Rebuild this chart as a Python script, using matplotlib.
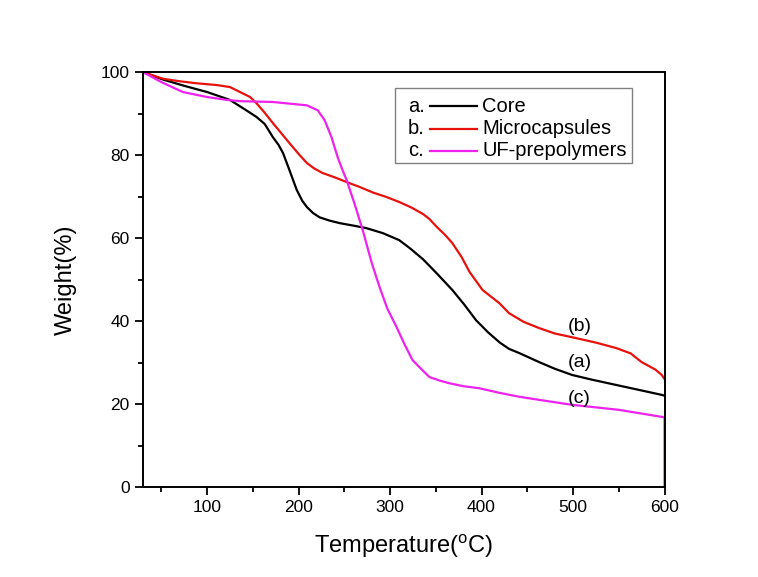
import matplotlib

matplotlib.use("Agg")
import matplotlib.pyplot as plt
from matplotlib.lines import Line2D
from matplotlib.patches import Rectangle
from matplotlib.ticker import MultipleLocator

plt.rcParams["font.family"] = ["Liberation Sans", "DejaVu Sans"]
plt.rcParams["mathtext.fontset"] = "custom"
plt.rcParams["mathtext.rm"] = "Liberation Sans"

# TGA curves
core_t = [30, 52, 75, 100, 125, 140, 154, 163, 172, 178, 183, 190, 198, 204, 209, 216, 223,
          234, 245, 260, 274, 292, 310, 322, 336, 351, 368, 381, 394, 407, 420, 430, 441, 452,
          463, 480, 499, 520, 547, 570, 597, 600]
core_w = [100, 98.2, 96.7, 95.2, 93.3, 91.2, 89.2, 87.5, 84.3, 82.5, 80.5, 76.4, 71.6, 69, 67.5,
          66, 65, 64.2, 63.6, 63, 62.4, 61.2, 59.5, 57.5, 54.9, 51.5, 47.5, 44, 40.2, 37.3, 34.8,
          33.3, 32.3, 31.2, 30.1, 28.5, 27, 25.9, 24.6, 23.5, 22.2, 22]

micro_t = [30, 52, 70, 89, 110, 125, 136, 147, 154, 163, 172, 181, 190, 200, 209, 217, 226,
           240, 252.5, 267, 281, 296, 310, 323, 336, 343, 351, 360, 368, 378, 387, 401, 419.5,
           430, 446, 463, 480, 503, 525, 547, 563, 575, 590, 597, 600]
micro_w = [100, 98.4, 97.8, 97.3, 96.9, 96.4, 95.2, 94, 92.5, 90.2, 87.7, 85.3, 82.9, 80.3, 78.1,
           76.8, 75.7, 74.6, 73.5, 72.3, 71, 69.9, 68.7, 67.4, 65.8, 64.6, 62.7, 60.8, 58.8, 55.5,
           51.8, 47.5, 44.3, 41.9, 39.8, 38.3, 37, 35.9, 34.8, 33.5, 32.2, 30.1, 28.3, 27, 26]

uf_t = [30, 50, 73.6, 100, 121.6, 136, 172, 209, 221, 228.5, 236, 242.7, 248, 252.5, 261, 270,
        280, 288.5, 297, 307, 316, 324.5, 332, 343, 355, 365, 380, 397.6, 419.5, 440, 463, 499,
        550, 597, 600, 600]
uf_w = [100, 97.6, 95.2, 94, 93.3, 93, 92.8, 92, 90.8, 88.4, 84.3, 79.5, 76.4, 74, 68.4, 62,
        54, 48.2, 43, 38.6, 34.3, 30.6, 28.9, 26.5, 25.6, 25, 24.3, 23.8, 22.7, 21.8, 21, 19.8,
        18.6, 16.9, 16.8, 0]

series = [
    ("a.", "Core", core_t, core_w, "black"),
    ("b.", "Microcapsules", micro_t, micro_w, "#e8120c"),
    ("c.", "UF-prepolymers", uf_t, uf_w, "#ee22ee"),
]
curve_tags = [("(b)", 507, 38.6), ("(a)", 507, 30.1), ("(c)", 507, 21.4)]

fig = plt.figure(figsize=(7.58, 5.77), dpi=100)
ax = fig.add_axes([0.1887, 0.156, 0.688, 0.719])

for _, name, t, w, color in series:
    ax.plot(t, w, color=color, lw=1.6)

for text, x, y in curve_tags:
    ax.text(x, y, text, fontsize=14, ha="center", va="center")

ax.set_xlim(30, 600)
ax.set_ylim(0, 100)
ax.xaxis.set_major_locator(MultipleLocator(100))
ax.xaxis.set_minor_locator(MultipleLocator(50))
ax.yaxis.set_major_locator(MultipleLocator(20))
ax.yaxis.set_minor_locator(MultipleLocator(10))
ax.tick_params(which="major", direction="out", length=6, width=1.3, labelsize=12.5)
ax.tick_params(which="minor", direction="out", length=3.5, width=1.3)
for sp in ax.spines.values():
    sp.set_linewidth(1.4)

ax.set_xlabel(r"Temperature($^{\rm o}$C)", fontsize=17, labelpad=12)
ax.set_ylabel("Weight(%)", fontsize=17, labelpad=17)

# hand-built legend with "a." prefixes before the line samples
ax.add_patch(Rectangle((0.483, 0.781), 0.454, 0.18, transform=ax.transAxes,
                       facecolor="white", edgecolor="#808080", lw=1.0, zorder=5))
row_y = [0.918, 0.863, 0.81]
for (prefix, name, _, _, color), y in zip(series, row_y):
    ax.text(0.508, y, prefix, transform=ax.transAxes, fontsize=14.5, va="center", zorder=6)
    ax.add_line(Line2D([0.550, 0.640], [y, y], transform=ax.transAxes, color=color,
                       lw=1.6, zorder=6))
    ax.text(0.650, y, name, transform=ax.transAxes, fontsize=14.5, va="center", zorder=6)

fig.savefig("out.png", dpi=100)
